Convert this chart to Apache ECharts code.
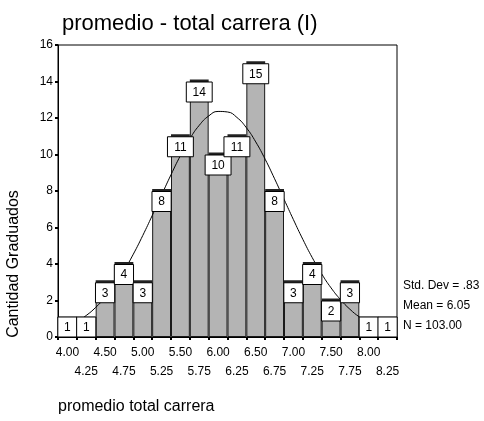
<!DOCTYPE html>
<html><head><meta charset="utf-8">
<script src="https://cdn.jsdelivr.net/npm/echarts@6/dist/echarts.min.js"></script>
<style>html,body{margin:0;padding:0;background:#fff}#c{width:484px;height:421px}</style>
</head><body><div id="c"></div>
<script>
const categories = ['4.00','4.25','4.50','4.75','5.00','5.25','5.50','5.75','6.00','6.25','6.50','6.75','7.00','7.25','7.50','7.75','8.00','8.25'];
const counts = [1,1,3,4,3,8,11,14,10,11,15,8,3,4,2,3,1,1];
const curveX = [3.875,4.0,4.125,4.25,4.375,4.5,4.625,4.75,4.875,5.0,5.125,5.25,5.375,5.5,5.625,5.75,5.875,6.0,6.125,6.25,6.375,6.5,6.625,6.75,6.875,7.0,7.125,7.25,7.375,7.5,7.625,7.75,7.875,8.0,8.125,8.25,8.375];
const curveY = [0.40,0.59,0.84,1.18,1.62,2.17,2.84,3.63,4.54,5.56,6.65,7.78,8.89,9.94,10.86,11.60,12.11,12.36,12.33,12.03,11.47,10.69,9.74,8.67,7.55,6.43,5.35,4.35,3.46,2.69,2.05,1.52,1.10,0.78,0.54,0.37,0.24];
const statsLines = ['Std. Dev = .83','Mean = 6.05','N = 103.00'];
const titleText = 'promedio - total carrera (I)';
const yName = 'Cantidad Graduados';
const xName = 'promedio total carrera';

const FONT = '"Liberation Sans", Arial, Helvetica, sans-serif';
const chart = echarts.init(document.getElementById('c'), null, {renderer:'canvas'});

const option = {
  animation:false,
  backgroundColor:'#fff',
  title:{text:titleText, left:57, top:8, textStyle:{fontFamily:FONT, fontSize:22, fontWeight:'normal', color:'#000'}},
  grid:{left:58, right:87, top:45, bottom:84, show:true, borderColor:'#000', borderWidth:1, backgroundColor:'transparent'},
  xAxis:[
    {type:'category', data:categories, boundaryGap:true,
     axisLine:{lineStyle:{color:'#000', width:1}},
     axisTick:{show:true, length:3, lineStyle:{color:'#000', width:2}},
     axisLabel:{interval:0, margin:6, fontFamily:FONT, fontSize:12, color:'#000', lineHeight:19,
       formatter:function(v, i){ return i % 2 === 0 ? v : '\n' + v; }},
     splitLine:{show:false}},
    {type:'value', min:3.875, max:8.375, show:false, splitLine:{show:false}}
  ],
  yAxis:{type:'value', min:0, max:16, interval:2,
    axisLine:{show:true, lineStyle:{color:'#000', width:1}},
    axisTick:{show:true, length:3, lineStyle:{color:'#000', width:2}},
    axisLabel:{margin:5, fontFamily:FONT, fontSize:12, color:'#000'},
    splitLine:{show:false}},
  series:[
    {type:'bar', data:counts, barCategoryGap:'0%', z:1,
     itemStyle:{color:'#b4b4b4', borderColor:'#1a1a1a', borderWidth:1}},
    {type:'line', xAxisIndex:1, data:curveX.map(function(x,i){return [x, curveY[i]];}),
     smooth:true, showSymbol:false, symbol:'none', z:2,
     lineStyle:{color:'#000', width:1}},
    {type:'custom', z:3, data:counts.map(function(v,i){return [i,v];}),
     renderItem:function(params, api){
       const i = api.value(0), v = api.value(1);
       const top = api.coord([i, v]);
       const base = api.coord([i, 0]);
       const bw = api.size([1,0])[0];
       const cx = top[0];
       const txt = String(v);
       const w = Math.max(bw, txt.length*6.7 + 12.5);
       const h = 20;
       const by = Math.min(top[1] + 0.5, base[1] - h);
       return {type:'group', children:[
         {type:'rect', shape:{x:cx-bw/2, y:top[1]-2, width:bw, height:2.5}, style:{fill:'#222'}},
         {type:'rect', shape:{x:cx-w/2, y:by, width:w, height:h}, style:{fill:'#fff', stroke:'#000', lineWidth:1}},
         {type:'text', style:{text:txt, x:cx, y:by+h/2+0.5, align:'center', verticalAlign:'middle', fontSize:12, fontFamily:FONT, fill:'#000'}}
       ]};
     }}
  ],
  graphic:[
    {type:'text', x:14, y:264, rotation:Math.PI/2, style:{text:yName, align:'center', verticalAlign:'middle', fontSize:16, fontFamily:FONT, fill:'#000'}},
    {type:'text', x:58, y:407, style:{text:xName, align:'left', verticalAlign:'middle', fontSize:16, fontFamily:FONT, fill:'#000'}}
  ].concat(statsLines.map(function(s, k){
    return {type:'text', x:403, y:286 + 20*k, style:{text:s, align:'left', verticalAlign:'middle', fontSize:12, fontFamily:FONT, fill:'#000'}};
  }))
};
chart.setOption(option);
</script>
</body></html>
